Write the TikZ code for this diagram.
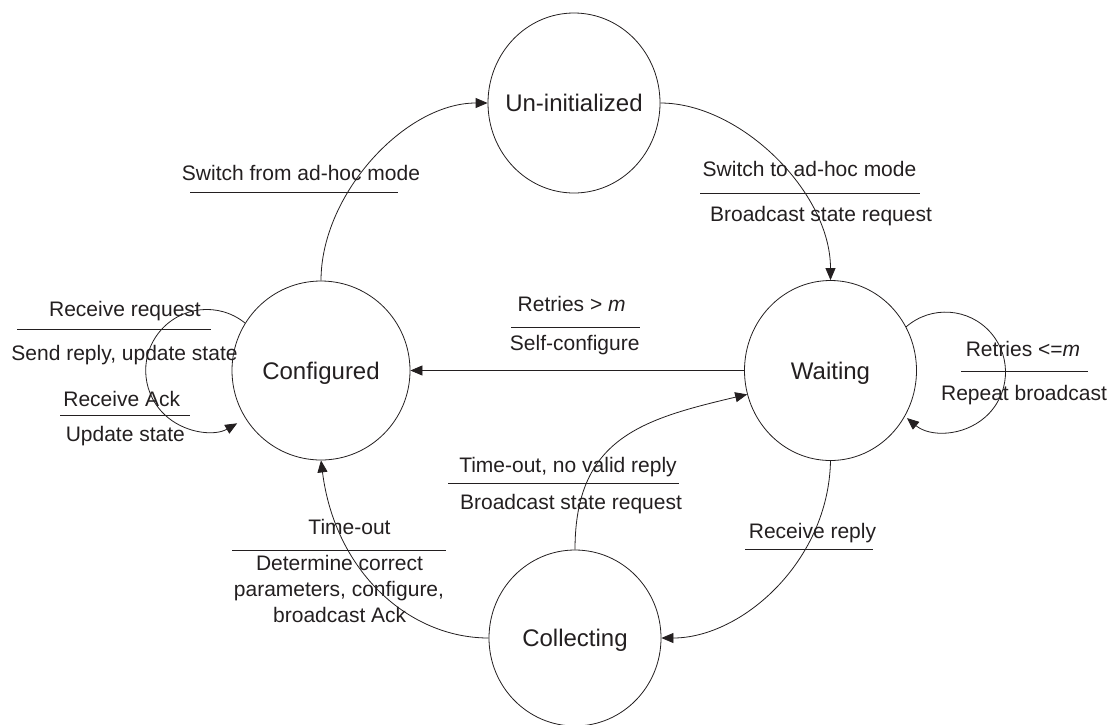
\documentclass[tikz,border=0pt]{standalone}
\usepackage{fontspec}
\setmainfont{Liberation Sans}
\usetikzlibrary{arrows.meta,shapes.geometric}
\definecolor{ink}{RGB}{35,31,32}
\newcommand\statefont{\fontsize{24}{28}\selectfont}
\newcommand\lblfont{\fontsize{21}{25}\selectfont}

\begin{document}
\begin{tikzpicture}[x=1pt,y=1pt,
  state/.style={draw=ink, ellipse, line width=0.8pt, inner sep=0pt,
    text height=17pt, text depth=0pt, font=\statefont, text=ink},
  lbl/.style={inner sep=0pt, text height=15pt, text depth=0pt,
    font=\lblfont, text=ink},
  rule/.style={draw=ink, line width=0.8pt},
  trans/.style={draw=ink, line width=0.8pt,
    -{Triangle[length=12pt,width=10pt]}},
]
\useasboundingbox (0,0) rectangle (1114,-724);

% states
\node[state, minimum width=172pt, minimum height=180pt] (uninit) at (574,-103) {\makebox[0pt]{Un-initialized}};
\node[state, minimum width=178pt, minimum height=179pt] (conf) at (321,-370.5) {\makebox[0pt]{Configured}};
\node[state, minimum width=172pt, minimum height=180pt] (wait) at (830.5,-370.5) {\makebox[0pt]{Waiting}};
\node[state, minimum width=172pt, minimum height=176pt] (coll) at (575,-638) {\makebox[0pt]{Collecting}};

% transitions
\draw[trans] (conf.north) .. controls +(0,87) and +(-82,0) .. (uninit.west);
\draw[trans] (uninit.east) .. controls +(80,0) and +(0,88) .. (wait.north);
\draw[trans] (wait.west) -- (conf.east);
\draw[trans] (wait.south) .. controls +(-2,-101) and +(80,0) .. (coll.east);
\draw[trans] (coll.north) .. controls +(0,111) and +(-106,-25) .. (wait.196.5);
\draw[trans] (coll.west) .. controls +(-80,0) and +(14,-111) .. (conf.south);
\draw[trans] (conf.148) arc[start angle=51, end angle=300, radius=61];
\draw[trans] (wait.30) arc[start angle=131, end angle=-130, radius=60];

% event / action labels
\node[lbl] (l1) at (301,-173.3) {Switch from ad-hoc mode};
\draw[rule] (190,-192) -- (398,-192);

\node[lbl] (l2a) at (809.5,-169) {Switch to ad-hoc mode};
\draw[rule] (700,-193) -- (920,-193);
\node[lbl] (l2b) at (821,-214) {Broadcast state request};

\node[lbl] (l3a) at (571.7,-304) {Retries > \textit{m}};
\draw[rule] (511,-327) -- (640,-327);
\node[lbl] (l3b) at (574.7,-342.5) {Self-configure};

\node[lbl] (l4a) at (1023,-348.5) {Retries <=\textit{m}};
\draw[rule] (961,-371) -- (1088,-371);
\node[lbl] (l4b) at (1024,-392.5) {Repeat broadcast};

\node[lbl] (l5a) at (125,-308.7) {Receive request};
\draw[rule] (17,-329) -- (211,-329);
\node[lbl] (l5b) at (124.5,-353) {Send reply, update state};
\node[lbl] (l5c) at (121.7,-398.7) {Receive Ack};
\draw[rule] (60,-415) -- (190,-415);
\node[lbl] (l5d) at (125.3,-433.7) {Update state};

\node[lbl] (l6a) at (568,-465) {Time-out, no valid reply};
\draw[rule] (448,-483) -- (679,-483);
\node[lbl] (l6b) at (571,-501.5) {Broadcast state request};

\node[lbl] (l7a) at (349.5,-527) {Time-out};
\draw[rule] (232,-550) -- (446,-550);
\node[lbl] (l7b) at (339.5,-563.3) {Determine correct};
\node[lbl] (l7c) at (339,-589) {parameters, configure,};
\node[lbl] (l7d) at (339.7,-615.3) {broadcast Ack};

\node[lbl] (l8) at (812.5,-530.5) {Receive reply};
\draw[rule] (745,-549) -- (873,-549);
\end{tikzpicture}
\end{document}
